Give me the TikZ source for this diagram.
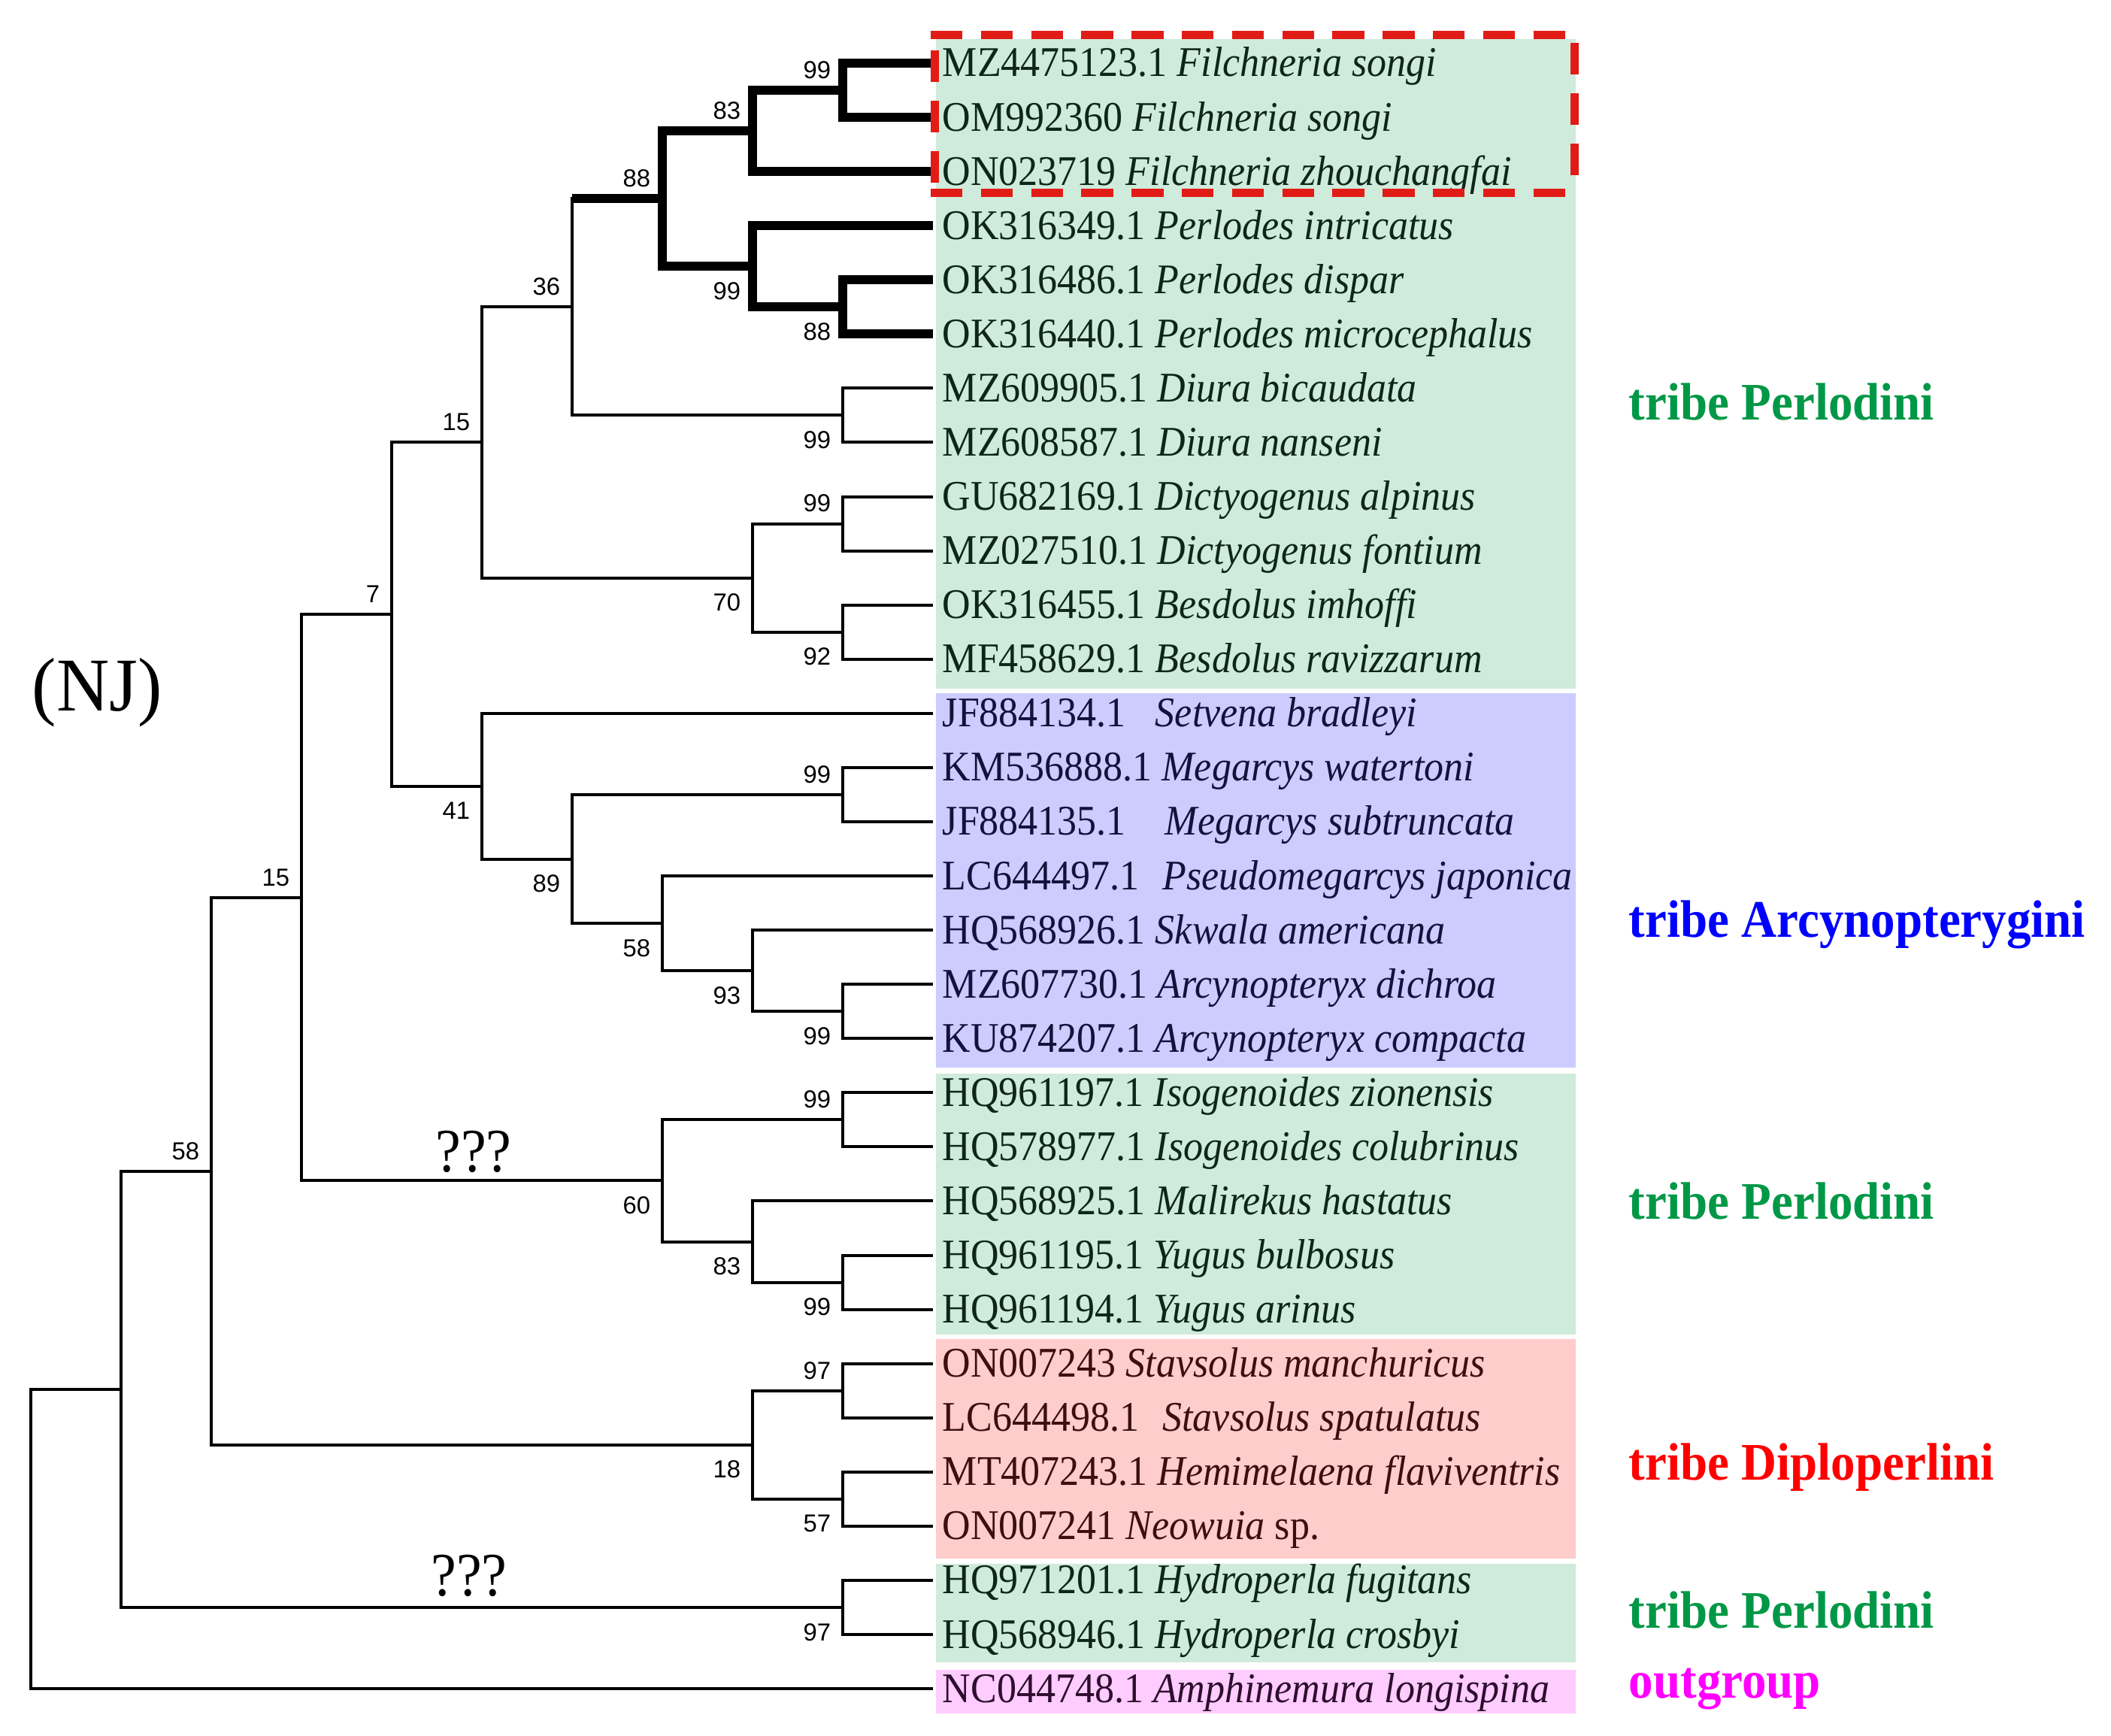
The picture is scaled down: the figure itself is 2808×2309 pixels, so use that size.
\documentclass[tikz,border=0pt]{standalone}
\usepackage{graphicx}
\usepackage{fontspec}
\setmainfont{Liberation Serif}
\newfontfamily\supfont{Liberation Sans}
\usetikzlibrary{calc}
\definecolor{boxG}{RGB}{206,235,219}
\definecolor{boxB}{RGB}{204,204,255}
\definecolor{boxR}{RGB}{255,204,204}
\definecolor{boxP}{RGB}{255,204,255}
\definecolor{txG}{RGB}{14,38,26}
\definecolor{txB}{RGB}{18,18,60}
\definecolor{txR}{RGB}{60,14,14}
\definecolor{txP}{RGB}{45,14,45}
\definecolor{trG}{RGB}{0,152,70}
\definecolor{trB}{RGB}{0,0,255}
\definecolor{trR}{RGB}{255,0,0}
\definecolor{trP}{RGB}{255,0,255}
\definecolor{hired}{RGB}{225,28,22}
\tikzset{
  br/.style={line width=1pt, black},
  brk/.style={line width=3pt, black},
  tiplab/.style={inner sep=0pt, anchor=base west, font=\fontsize{13}{15}\selectfont},
  suplab/.style={inner sep=0pt, font=\supfont\fontsize{8.2}{9}\selectfont},
  supa/.style={suplab, anchor=south east},
  supb/.style={suplab, anchor=north east},
  tribe/.style={inner sep=0pt, anchor=base west, font=\fontsize{16.25}{18}\selectfont\bfseries},
  qq/.style={inner sep=0pt, anchor=base, font=\fontsize{19}{21}\selectfont},
  hilite/.style={draw=hired, line width=2.75pt, dash pattern=on 10.6pt off 6.1pt},
}
\newcommand\cladeb[4]{%
  \draw[#1, line cap=rect] (#2 |- #3) -- (#2 |- #4);
  \draw[#1] (#2 |- #3) -- (#3);
  \draw[#1] (#2 |- #4) -- (#4);}
\newcommand\tipl[4]{%
  \coordinate (t#1) at (1241,#2);
  \node[tiplab, text=#3] (lab#1) at ($(t#1)+(12,18)$) {\scalebox{1}[1.08]{#4}};}
\newcommand\supA[2]{\node[supa] (sup-#1) at ($(#1)+(-15,-14.5)$) {#2};}
\newcommand\supB[2]{\node[supb] (sup-#1) at ($(#1)+(-15,20.5)$) {#2};}

\begin{document}
\begin{tikzpicture}[x=0.25pt, y=-0.25pt]
\useasboundingbox (0,0) rectangle (2808,2309);
\fill[white] (0,0) rectangle (2808,2309);

% group boxes
\fill[boxG] (1245,52) rectangle (2096,916);
\fill[boxB] (1245,922) rectangle (2096,1420);
\fill[boxG] (1245,1428) rectangle (2096,1775);
\fill[boxR] (1245,1781) rectangle (2096,2073);
\fill[boxG] (1245,2080) rectangle (2096,2211);
\fill[boxP] (1245,2221) rectangle (2096,2279);

% tips
\tipl{1}{84.00}{txG}{MZ4475123.1 \textit{Filchneria songi}}
\tipl{2}{156.07}{txG}{OM992360 \textit{Filchneria songi}}
\tipl{3}{228.14}{txG}{ON023719 \textit{Filchneria zhouchangfai}}
\tipl{4}{300.21}{txG}{OK316349.1 \textit{Perlodes intricatus}}
\tipl{5}{372.28}{txG}{OK316486.1 \textit{Perlodes dispar}}
\tipl{6}{444.35}{txG}{OK316440.1 \textit{Perlodes microcephalus}}
\tipl{7}{516.42}{txG}{MZ609905.1 \textit{Diura bicaudata}}
\tipl{8}{588.49}{txG}{MZ608587.1 \textit{Diura nanseni}}
\tipl{9}{660.56}{txG}{GU682169.1 \textit{Dictyogenus alpinus}}
\tipl{10}{732.63}{txG}{MZ027510.1 \textit{Dictyogenus fontium}}
\tipl{11}{804.70}{txG}{OK316455.1 \textit{Besdolus imhoffi}}
\tipl{12}{876.77}{txG}{MF458629.1 \textit{Besdolus ravizzarum}}
\tipl{13}{948.84}{txB}{JF884134.1\hspace{0.75em}\textit{Setvena bradleyi}}
\tipl{14}{1020.91}{txB}{KM536888.1 \textit{Megarcys watertoni}}
\tipl{15}{1092.98}{txB}{JF884135.1\hspace{1em}\textit{Megarcys subtruncata}}
\tipl{16}{1165.05}{txB}{LC644497.1\hspace{0.6em}\textit{Pseudomegarcys japonica}}
\tipl{17}{1237.12}{txB}{HQ568926.1 \textit{Skwala americana}}
\tipl{18}{1309.19}{txB}{MZ607730.1 \textit{Arcynopteryx dichroa}}
\tipl{19}{1381.26}{txB}{KU874207.1 \textit{Arcynopteryx compacta}}
\tipl{20}{1453.33}{txG}{HQ961197.1 \textit{Isogenoides zionensis}}
\tipl{21}{1525.40}{txG}{HQ578977.1 \textit{Isogenoides colubrinus}}
\tipl{22}{1597.47}{txG}{HQ568925.1 \textit{Malirekus hastatus}}
\tipl{23}{1669.54}{txG}{HQ961195.1 \textit{Yugus bulbosus}}
\tipl{24}{1741.61}{txG}{HQ961194.1 \textit{Yugus arinus}}
\tipl{25}{1813.68}{txR}{ON007243 \textit{Stavsolus manchuricus}}
\tipl{26}{1885.75}{txR}{LC644498.1\hspace{0.6em}\textit{Stavsolus spatulatus}}
\tipl{27}{1957.82}{txR}{MT407243.1 \textit{Hemimelaena flaviventris}}
\tipl{28}{2029.89}{txR}{ON007241 \textit{Neowuia} sp.}
\tipl{29}{2101.96}{txG}{HQ971201.1 \textit{Hydroperla fugitans}}
\tipl{30}{2174.03}{txG}{HQ568946.1 \textit{Hydroperla crosbyi}}
\tipl{31}{2246.10}{txP}{NC044748.1 \textit{Amphinemura longispina}}

% internal nodes
\coordinate (a1) at (1121,120.04);
\coordinate (a2) at (1001,174.09);
\coordinate (a3) at (1121,408.32);
\coordinate (a4) at (1001,354.26);
\coordinate (a5) at (881,264.18);
\coordinate (a6) at (1121,552.46);
\coordinate (a7) at (761,408.32);
\coordinate (a8) at (1121,696.60);
\coordinate (a9) at (1121,840.74);
\coordinate (a10) at (1001,768.67);
\coordinate (a11) at (641,588.50);
\coordinate (b1) at (1121,1056.95);
\coordinate (b2) at (1121,1345.23);
\coordinate (b3) at (1001,1291.18);
\coordinate (b4) at (881,1228.12);
\coordinate (b5) at (761,1142.54);
\coordinate (b6) at (641,1045.69);
\coordinate (c1) at (521,817.10);
\coordinate (d1) at (1121,1489.37);
\coordinate (d2) at (1121,1705.58);
\coordinate (d3) at (1001,1651.53);
\coordinate (d4) at (881,1570.45);
\coordinate (c2) at (401,1193.78);
\coordinate (e1) at (1121,1849.72);
\coordinate (e2) at (1121,1993.86);
\coordinate (e3) at (1001,1921.79);
\coordinate (c3) at (281,1557.79);
\coordinate (f1) at (1121,2138.00);
\coordinate (c4) at (161,1847.90);
\coordinate (rt) at (41,2047.00);

% branches: bold clade
\cladeb{brk}{a1}{t1}{t2}
\cladeb{brk}{a2}{a1}{t3}
\cladeb{brk}{a3}{t5}{t6}
\cladeb{brk}{a4}{t4}{a3}
\cladeb{brk}{a5}{a2}{a4}
\draw[br, line cap=rect] (a7 |- a5) -- (a7 |- a6);
\draw[brk] (a7 |- a5) -- (a5);
\draw[br] (a7 |- a6) -- (a6);
% thin branches
\cladeb{br}{a6}{t7}{t8}
\cladeb{br}{a8}{t9}{t10}
\cladeb{br}{a9}{t11}{t12}
\cladeb{br}{a10}{a8}{a9}
\cladeb{br}{a11}{a7}{a10}
\cladeb{br}{b1}{t14}{t15}
\cladeb{br}{b2}{t18}{t19}
\cladeb{br}{b3}{t17}{b2}
\cladeb{br}{b4}{t16}{b3}
\cladeb{br}{b5}{b1}{b4}
\cladeb{br}{b6}{t13}{b5}
\cladeb{br}{c1}{a11}{b6}
\cladeb{br}{d1}{t20}{t21}
\cladeb{br}{d2}{t23}{t24}
\cladeb{br}{d3}{t22}{d2}
\cladeb{br}{d4}{d1}{d3}
\cladeb{br}{c2}{c1}{d4}
\cladeb{br}{e1}{t25}{t26}
\cladeb{br}{e2}{t27}{t28}
\cladeb{br}{e3}{e1}{e2}
\cladeb{br}{c3}{c2}{e3}
\cladeb{br}{f1}{t29}{t30}
\cladeb{br}{c4}{c3}{f1}
\cladeb{br}{rt}{c4}{t31}

% support values
\supA{a1}{99}
\supA{a2}{83}
\supB{a3}{88}
\supB{a4}{99}
\supA{a5}{88}
\supB{a6}{99}
\supA{a7}{36}
\supA{a8}{99}
\supB{a9}{92}
\supB{a10}{70}
\supA{a11}{15}
\supA{b1}{99}
\supB{b2}{99}
\supB{b3}{93}
\supB{b4}{58}
\supB{b5}{89}
\supB{b6}{41}
\supA{c1}{7}
\supA{d1}{99}
\supB{d2}{99}
\supB{d3}{83}
\supB{d4}{60}
\supA{c2}{15}
\supA{e1}{97}
\supB{e2}{57}
\supB{e3}{18}
\supA{c3}{58}
\supB{f1}{97}

% question marks
\node[qq] (q1) at (630,1558) {\scalebox{1}[1.08]{???}};
\node[qq] (q2) at (624,2122) {\scalebox{1}[1.08]{???}};

% method label
\node[inner sep=0pt, anchor=base west, font=\fontsize{24.3}{26}\selectfont] (nj) at (42,946) {\scalebox{1}[1.04]{(NJ)}};

% tribe labels
\node[tribe, text=trG] (tr1) at (2166,559) {\scalebox{1}[1.08]{tribe Perlodini}};
\node[tribe, text=trB] (tr2) at (2166,1247) {\scalebox{1}[1.08]{tribe Arcynopterygini}};
\node[tribe, text=trG] (tr3) at (2166,1621) {\scalebox{1}[1.08]{tribe Perlodini}};
\node[tribe, text=trR] (tr4) at (2166,1968) {\scalebox{1}[1.08]{tribe Diploperlini}};
\node[tribe, text=trG] (tr5) at (2166,2165) {\scalebox{1}[1.08]{tribe Perlodini}};
\node[tribe, text=trP] (tr6) at (2166,2258) {\scalebox{1}[1.08]{outgroup}};

% highlight box
\draw[hilite] (1238,47) -- (2099,47);
\draw[hilite] (1238,257) -- (2099,257);
\draw[hilite] (1243,67) -- (1243,250);
\draw[hilite] (2094,57) -- (2094,250);
\end{tikzpicture}
\end{document}
